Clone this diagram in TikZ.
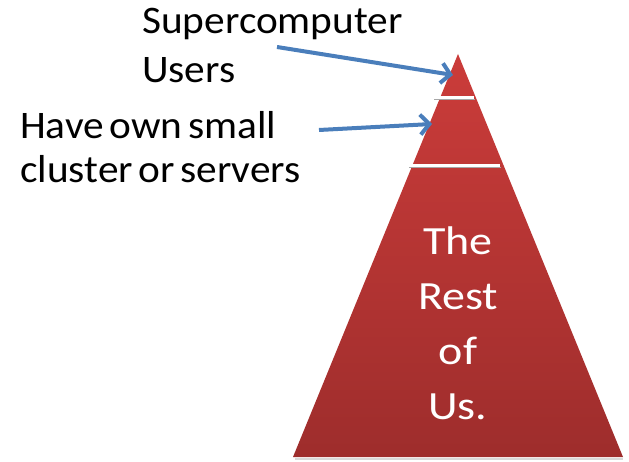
\documentclass[tikz,border=0pt]{standalone}
\usepackage{fontspec}
\setmainfont{Carlito}
\newfontfamily\sidefont[FakeStretch=1.06,WordSpace=0.6]{Carlito}
\newfontfamily\pyrfont[FakeStretch=1.15]{Carlito}
\usetikzlibrary{arrows.meta,calc}
\definecolor{pyrtop}{RGB}{203,60,58}
\definecolor{pyrbot}{RGB}{158,45,44}
\definecolor{arrowblue}{RGB}{74,126,187}
\tikzset{
  textblock/.style={inner sep=0pt,anchor=north west,align=left},
  pointer/.style={arrowblue,line width=4pt,-{Straight Barb[length=9pt,width=20pt,line width=4pt]}},
  divider/.style={white,line width=3pt}
}
\begin{document}
\begin{tikzpicture}[x=1pt,y=-1pt]
  \useasboundingbox (0,0) rectangle (629,462);

  \coordinate (apex) at (458,54);
  \coordinate (bl) at (293,457);
  \coordinate (br) at (623,457);
  \draw[black!15,line width=2pt] ($(bl)+(2,2)$) -- ($(br)+(0,2)$);
  \shade[top color=pyrtop,bottom color=pyrbot] (apex) -- (br) -- (bl) -- cycle;

  \coordinate (c1) at (433,98);
  \coordinate (c2) at (474,98);
  \coordinate (c3) at (408,166);
  \coordinate (c4) at (500,166);
  \draw[black!35,line width=1pt] ($(c1)+(1,2)$) -- ($(c2)+(1,2)$);
  \draw[black!35,line width=1pt] ($(c3)+(1,2)$) -- ($(c4)+(1,2)$);
  \draw[divider] (c1) -- (c2);
  \draw[divider] (c3) -- (c4);

  \node[textblock,font=\sidefont\fontsize{39}{49}\selectfont] (super) at (142,8) {Supercomputer\\Users};
  \node[textblock,font=\sidefont\fontsize{39}{44}\selectfont] (small) at (20,111) {Have own small\\cluster or servers};
  \node[inner sep=0pt,anchor=north,align=center,text=white,font=\pyrfont\fontsize{40}{55}\selectfont] (rest) at (458,227) {The\\Rest\\of\\Us.};

  \coordinate (s0) at (277,47);
  \coordinate (s1) at (453,75);
  \coordinate (m0) at (319,130);
  \coordinate (m1) at (432,124);
  \draw[pointer] (s0) -- (s1);
  \draw[pointer] (m0) -- (m1);
\end{tikzpicture}
\end{document}
